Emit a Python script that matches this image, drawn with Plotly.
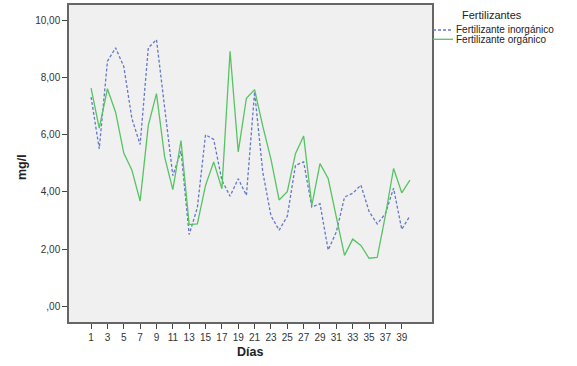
import plotly.graph_objects as go

dias = list(range(1, 41))
inorganico = [7.32, 5.51, 8.57, 9.04, 8.39, 6.56, 5.66, 9.04, 9.33, 6.95,
              4.57, 5.43, 2.51, 3.45, 6.00, 5.84, 4.41, 3.85, 4.46, 3.88,
              7.50, 4.70, 3.17, 2.66, 3.15, 4.93, 5.05, 3.47, 3.59, 1.97,
              2.60, 3.82, 3.95, 4.24, 3.32, 2.88, 3.24, 4.13, 2.69, 3.16]
organico = [7.63, 6.23, 7.61, 6.79, 5.36, 4.76, 3.68, 6.33, 7.44, 5.22,
            4.08, 5.80, 2.86, 2.88, 4.23, 5.05, 4.11, 8.92, 5.40, 7.28,
            7.58, 6.30, 5.15, 3.72, 4.01, 5.34, 5.96, 3.53, 4.99, 4.47,
            3.12, 1.78, 2.35, 2.13, 1.68, 1.71, 3.18, 4.82, 3.97, 4.41]
x_tickvals = list(range(1, 40, 2))
x_ticktext = [str(v) for v in x_tickvals]
y_tickvals = [0, 2, 4, 6, 8, 10]
y_ticktext = [",00", "2,00", "4,00", "6,00", "8,00", "10,00"]
series_names = ["Fertilizante inorgánico", "Fertilizante orgánico"]
legend_title = "Fertilizantes"

BLUE = "#6477c8"
GREEN = "#56c463"
FONT = "Liberation Sans, Arial, sans-serif"

L, R, T, B = 69, 432, 5, 322
W, H = 577, 366

fig = go.Figure()
fig.add_trace(go.Scatter(x=dias, y=inorganico, mode="lines", name=series_names[0],
                         line=dict(color=BLUE, width=1.3, dash="3px,2px")))
fig.add_trace(go.Scatter(x=dias, y=organico, mode="lines", name=series_names[1],
                         line=dict(color=GREEN, width=1.3)))

fig.update_layout(
    width=W, height=H,
    margin=dict(l=L, r=W - R, t=T, b=H - B, autoexpand=False),
    paper_bgcolor="white", plot_bgcolor="#f0f0f0",
    showlegend=False,
    font=dict(family=FONT, size=10, color="#222"),
)
axis_common = dict(ticks="outside", ticklen=5, tickcolor="#444", showgrid=False,
                   zeroline=False, showline=True, linecolor="#666", linewidth=1.5,
                   mirror=True, tickfont=dict(size=10, color="#333"), automargin=False)
fig.update_xaxes(range=[-1.7, 42.7], tickvals=x_tickvals, ticktext=x_ticktext, **axis_common)
fig.update_yaxes(range=[-0.55, 10.54], tickvals=y_tickvals, ticktext=y_ticktext, **axis_common)


def px_x(p):
    return (p - L) / (R - L)


def px_y(p):
    return (B - p) / (B - T)


def label(text, x, y, size, xanchor="center", angle=0):
    fig.add_annotation(text=text, xref="paper", yref="paper", x=px_x(x), y=px_y(y),
                       xanchor=xanchor, yanchor="middle", showarrow=False, textangle=angle,
                       font=dict(size=size, family=FONT, color="#222"))


# axis titles
label("<b>Días</b>", 250, 352, 12.5)
label("<b>mg/l</b>", 22, 167, 12.5, angle=-90)

# legend
label(legend_title, 492, 15, 11)
for i, (nm, col, dash) in enumerate([(series_names[0], BLUE, "3px,2px"),
                                      (series_names[1], GREEN, "solid")]):
    yy = 30 + i * 9.3
    fig.add_shape(type="line", xref="paper", yref="paper", x0=px_x(433), x1=px_x(453),
                  y0=px_y(yy), y1=px_y(yy), line=dict(color=col, width=1.3, dash=dash))
    label(nm, 454, yy, 10, xanchor="left")

fig.write_html("out.html", config={"displayModeBar": False},
               post_script="document.body.style.margin='0px';")
